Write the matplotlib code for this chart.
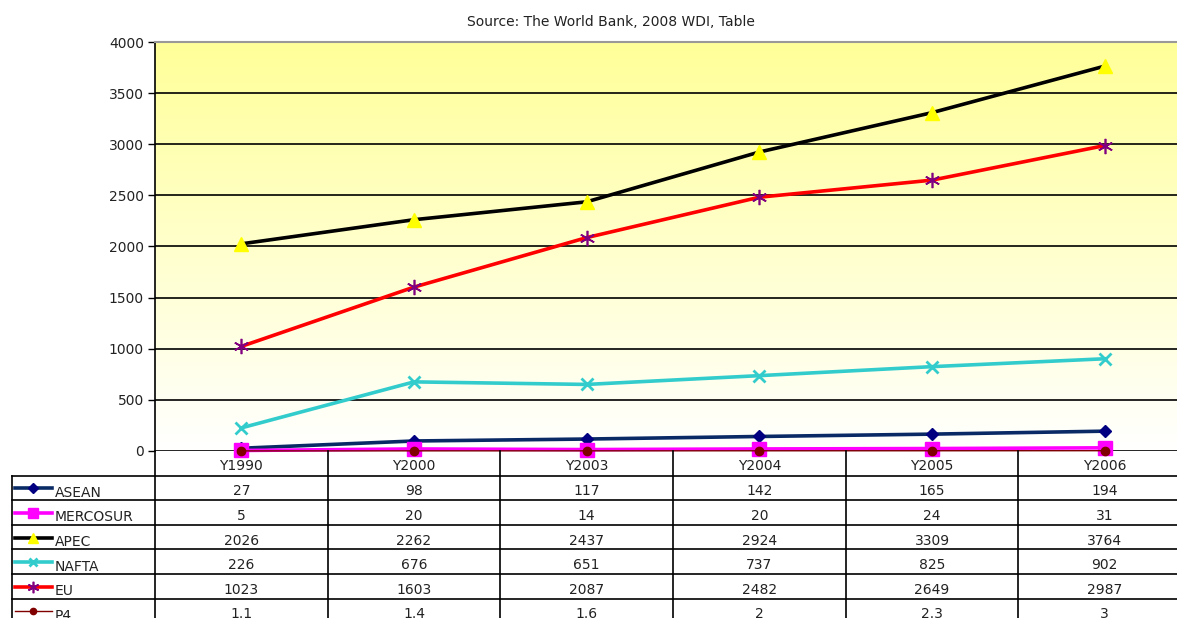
import numpy as np
import matplotlib
matplotlib.use("Agg")
import matplotlib.pyplot as plt
from matplotlib.colors import LinearSegmentedColormap

plt.rcParams['font.family'] = ['DejaVu Sans']

categories = ["Y1990", "Y2000", "Y2003", "Y2004", "Y2005", "Y2006"]
series_names = ["ASEAN", "MERCOSUR", "APEC", "NAFTA", "EU", "P4"]
asean = [27, 98, 117, 142, 165, 194]
mercosur = [5, 20, 14, 20, 24, 31]
apec = [2026, 2262, 2437, 2924, 3309, 3764]
nafta = [226, 676, 651, 737, 825, 902]
eu = [1023, 1603, 2087, 2482, 2649, 2987]
p4 = [1.1, 1.4, 1.6, 2, 2.3, 3]
table_labels = [
    ["27", "98", "117", "142", "165", "194"],
    ["5", "20", "14", "20", "24", "31"],
    ["2026", "2262", "2437", "2924", "3309", "3764"],
    ["226", "676", "651", "737", "825", "902"],
    ["1023", "1603", "2087", "2482", "2649", "2987"],
    ["1.1", "1.4", "1.6", "2", "2.3", "3"],
]
yticks = [0, 500, 1000, 1500, 2000, 2500, 3000, 3500, 4000]

data = [asean, mercosur, apec, nafta, eu, p4]
styles = [
    dict(color="#0a2a66", lw=2.6, marker="D", ms=6.5, mfc="#000080", mec="#000080"),
    dict(color="#ff00ff", lw=2.6, marker="s", ms=10, mfc="#ff00ff", mec="#ff00ff"),
    dict(color="#000000", lw=2.6, marker="^", ms=10, mfc="#ffff00", mec="#ffff00"),
    dict(color="#33cccc", lw=2.6, marker="x", ms=8, mfc="#33cccc", mec="#33cccc", mew=2),
    dict(color="#ff0000", lw=2.6, marker=(6, 2, 0), ms=11, mfc="#800080", mec="#800080", mew=1.2),
    dict(color="#800000", lw=1.0, marker="o", ms=6, mfc="#800000", mec="#800000"),
]

W, H = 1177, 618
FS = 10
TXT = "#222222"
fig = plt.figure(figsize=(W / 100, H / 100), dpi=100)

def px_rect(x0, y0, x1, y1):
    return [x0 / W, 1 - y1 / H, (x1 - x0) / W, (y1 - y0) / H]

colw = (1191 - 155) / 6.0
ax = fig.add_axes(px_rect(155, 42, 1191, 451))
x = np.arange(len(categories))
ax.set_xlim(-0.5, len(categories) - 0.5)
ax.set_ylim(0, 4000)

cmap = LinearSegmentedColormap.from_list("bg", ["#ffffff", "#ffff99"])
grad = np.linspace(0, 1, 256).reshape(-1, 1)
ax.imshow(grad, extent=[0, 1, 0, 1], transform=ax.transAxes, origin="lower",
          cmap=cmap, aspect="auto", zorder=0)

for v in yticks[:-1]:
    ax.axhline(v, color="black", lw=1.2, zorder=1)
for s in ["right", "bottom"]:
    ax.spines[s].set_visible(False)
ax.spines["top"].set_color("#999999")
ax.spines["top"].set_linewidth(1.5)
ax.spines["left"].set_color("black")
ax.spines["left"].set_linewidth(1.2)
ax.set_yticks(yticks)
ax.set_yticklabels([str(v) for v in yticks], fontsize=FS, color=TXT)
ax.tick_params(axis="y", length=5, width=1.0, direction="out", pad=3)
ax.set_xticks([])

for vals, st in zip(data, styles):
    ax.plot(x, vals, zorder=3, clip_on=False, **st)

fig.text(611 / W, 1 - 22 / H, "Source: The World Bank, 2008 WDI, Table",
         ha="center", va="center", fontsize=FS, color=TXT)

# table
row_h = 24.6
n_rows = 7
left_units = (155 - 12) / colw
tax = fig.add_axes(px_rect(12, 451, 1191, 451 + row_h * n_rows), zorder=2)
tax.set_xlim(-0.5 - left_units, len(categories) - 0.5)
tax.set_ylim(n_rows, 0)
tax.axis("off")
tax.patch.set_alpha(0)
xl = -0.5 - left_units
for r in range(1, n_rows + 1):
    tax.plot([xl, len(categories) - 0.5], [r, r], color="black", lw=1.2, clip_on=False)
tax.plot([xl, xl], [1, n_rows], color="black", lw=1.2, clip_on=False)
for i in range(len(categories)):
    tax.plot([i - 0.5, i - 0.5], [0, n_rows], color="black", lw=1.2, clip_on=False)
for i, c in enumerate(categories):
    tax.text(i, 0.6, c, ha="center", va="center", fontsize=FS, color=TXT)
for r, (name, labels, st) in enumerate(zip(series_names, table_labels, styles)):
    yc = r + 1.64
    for i, t in enumerate(labels):
        tax.text(i, yc, t, ha="center", va="center", fontsize=FS, color=TXT)
    k0 = xl + 3 / colw
    k1 = xl + 40 / colw
    tax.plot([k0, k1], [r + 1.52, r + 1.52], color=st["color"], lw=st["lw"], clip_on=False)
    mk = {k: v for k, v in st.items() if k not in ("color", "lw")}
    mk["ms"] = st["ms"] * 0.75
    tax.plot([(k0 + k1) / 2], [r + 1.52], linestyle="none", clip_on=False, **mk)
    tax.text(xl + 43 / colw, r + 1.7, name, ha="left", va="center", fontsize=FS, color=TXT)

fig.savefig("out.png", dpi=100)
